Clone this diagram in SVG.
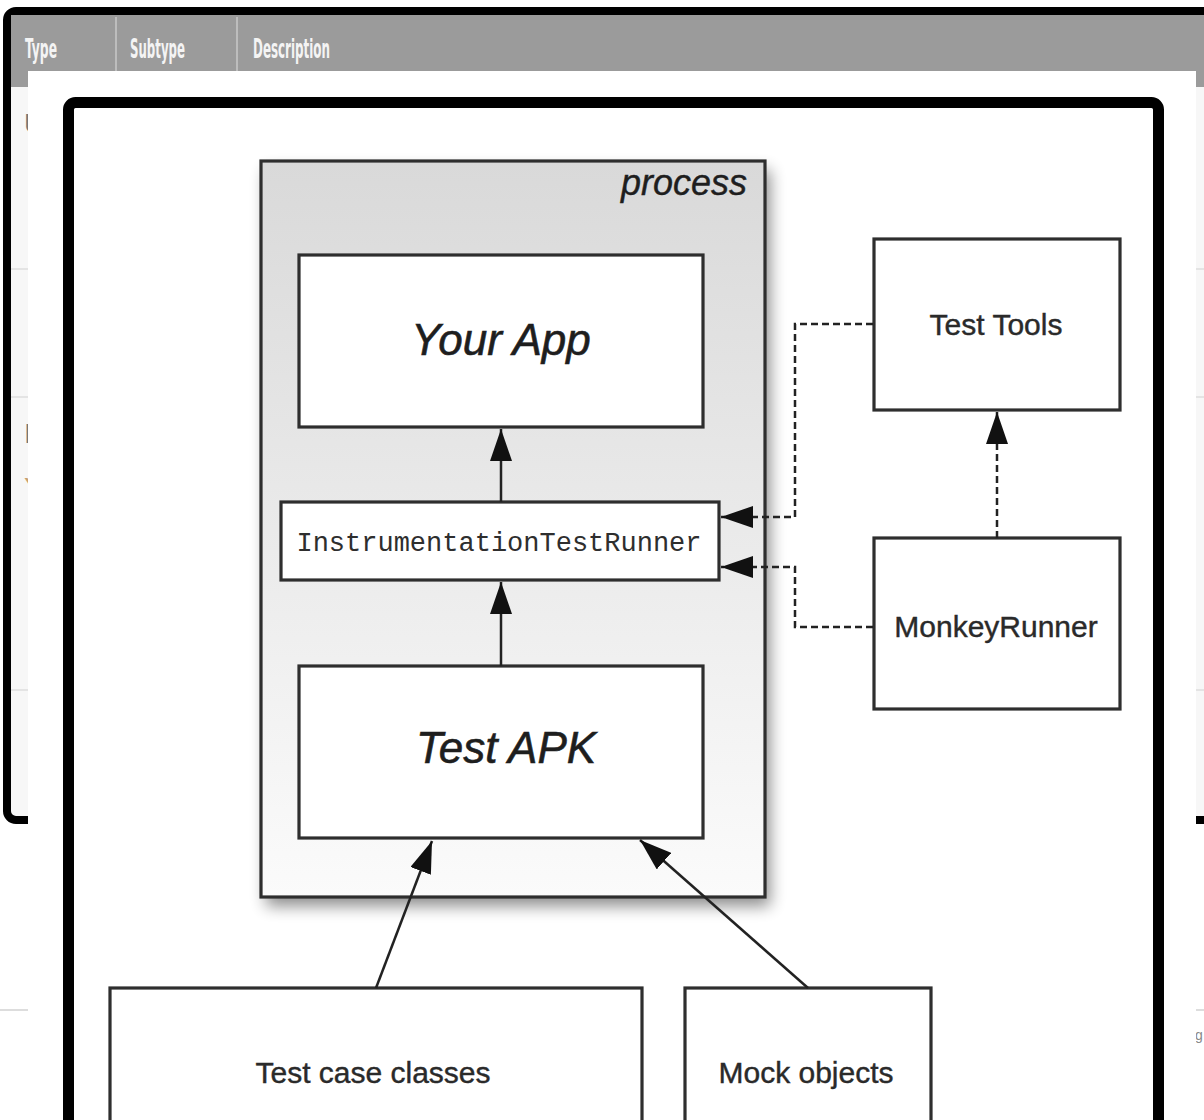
<svg xmlns="http://www.w3.org/2000/svg" width="1204" height="1120" viewBox="0 0 1204 1120">
  <style>
    .hdr { font-family: "Liberation Sans Narrow", "DejaVu Sans Condensed", "Liberation Sans", sans-serif; font-weight: bold; font-size: 27px; fill: #f4f4f4; }
    .box { fill: #ffffff; stroke: #2e2e2e; stroke-width: 3.2; }
    .lbl { font-family: "Liberation Sans", Arial, sans-serif; font-size: 30px; fill: #2a2a2a; stroke: #2a2a2a; stroke-width: 0.4; text-anchor: middle; }
    .big { font-family: "Liberation Sans", Arial, sans-serif; font-size: 44px; font-style: italic; fill: #1e1e1e; stroke: #1e1e1e; stroke-width: 0.6; text-anchor: middle; }
    .mono { font-family: "Liberation Mono", "Courier New", monospace; font-size: 27px; fill: #2e2e2e; text-anchor: middle; }
    .solid { fill: none; stroke: #222222; stroke-width: 2.5; }
    .dash { fill: none; stroke: #222222; stroke-width: 2.5; stroke-dasharray: 7 4; }
    .row { stroke: #e4e4e4; stroke-width: 2; }
  </style>
  <defs>
    <marker id="head" viewBox="0 0 32 22" refX="32" refY="11" markerWidth="32" markerHeight="22" markerUnits="userSpaceOnUse" orient="auto">
      <path d="M0,0 L32,11 L0,22 Z" fill="#111111"/>
    </marker>
    <linearGradient id="procFill" x1="0" y1="0" x2="0" y2="1">
      <stop offset="0" stop-color="#d9d9d9"/>
      <stop offset="1" stop-color="#fbfbfb"/>
    </linearGradient>
    <filter id="soft" x="-20%" y="-20%" width="140%" height="140%">
      <feGaussianBlur stdDeviation="8"/>
    </filter>
  </defs>

  <!-- page behind: table with header -->
  <rect x="0" y="0" width="1204" height="1120" fill="#ffffff"/>
  <rect x="7" y="11" width="1215" height="809" rx="9" fill="#f7f7f7" stroke="#000000" stroke-width="8"/>
  <rect x="11" y="15" width="1200" height="72" fill="#9b9b9b"/>
  <line x1="116" y1="17" x2="116" y2="71" stroke="#bdbdbd" stroke-width="2"/>
  <line x1="237" y1="17" x2="237" y2="71" stroke="#bdbdbd" stroke-width="2"/>
  <text class="hdr" x="25" y="58" textLength="32" lengthAdjust="spacingAndGlyphs">Type</text>
  <text class="hdr" x="130" y="58" textLength="55" lengthAdjust="spacingAndGlyphs">Subtype</text>
  <text class="hdr" x="253" y="58" textLength="77" lengthAdjust="spacingAndGlyphs">Description</text>
  <line class="row" x1="11" y1="269" x2="1204" y2="269"/>
  <line class="row" x1="11" y1="397" x2="1204" y2="397"/>
  <line class="row" x1="11" y1="690" x2="1204" y2="690"/>
  <text x="24" y="133" font-family="Liberation Sans, sans-serif" font-size="28" fill="#777777">U</text>
  <text x="24" y="443" font-family="Liberation Sans, sans-serif" font-size="28" fill="#777777">I</text>
  <text x="24" y="497" font-family="Liberation Sans, sans-serif" font-size="28" fill="#c8a070">Y</text>
  <line x1="0" y1="1010" x2="1204" y2="1010" stroke="#dddddd" stroke-width="2"/>
  <text x="1195" y="1040" font-family="Liberation Sans, sans-serif" font-size="14" fill="#888888">g</text>

  <!-- figure panel on top -->
  <rect x="28" y="71" width="1168" height="1060" fill="#ffffff"/>
  <rect x="68.5" y="102.5" width="1090" height="1100" rx="7" fill="#ffffff" stroke="#000000" stroke-width="11"/>

  <!-- process container -->
  <g id="process">
    <rect x="266" y="170" width="504" height="736" fill="#000000" opacity="0.45" filter="url(#soft)"/>
    <rect x="261" y="161" width="504" height="736" fill="url(#procFill)" stroke="#2e2e2e" stroke-width="3.2"/>
    <text x="747" y="195" font-family="Liberation Sans, Arial, sans-serif" font-size="36" font-style="italic" fill="#1e1e1e" stroke="#1e1e1e" stroke-width="0.4" text-anchor="end">process</text>
  </g>

  <g id="your-app">
    <rect class="box" x="299" y="255" width="404" height="172"/>
    <text class="big" x="501" y="355">Your App</text>
  </g>

  <g id="instrumentation-test-runner">
    <rect class="box" x="281" y="502" width="438" height="78"/>
    <text class="mono" x="499" y="551">InstrumentationTestRunner</text>
  </g>

  <g id="test-apk">
    <rect class="box" x="299" y="666" width="404" height="172"/>
    <text class="big" x="506" y="763">Test APK</text>
  </g>

  <g id="test-tools">
    <rect class="box" x="874" y="239" width="246" height="171"/>
    <text class="lbl" x="996" y="335">Test Tools</text>
  </g>

  <g id="monkey-runner">
    <rect class="box" x="874" y="538" width="246" height="171"/>
    <text class="lbl" x="996" y="637">MonkeyRunner</text>
  </g>

  <g id="test-case-classes">
    <rect class="box" x="110" y="988" width="532" height="160"/>
    <text class="lbl" x="373" y="1083">Test case classes</text>
  </g>

  <g id="mock-objects">
    <rect class="box" x="685" y="988" width="246" height="160"/>
    <text class="lbl" x="806" y="1083">Mock objects</text>
  </g>

  <g id="connectors">
    <line class="solid" x1="501" y1="502" x2="501" y2="429" marker-end="url(#head)"/>
    <line class="solid" x1="501" y1="666" x2="501" y2="582" marker-end="url(#head)"/>
    <line class="dash" x1="997" y1="538" x2="997" y2="412" marker-end="url(#head)"/>
    <polyline class="dash" points="873,324 795,324 795,517 721,517" marker-end="url(#head)"/>
    <polyline class="dash" points="873,627 795,627 795,567 721,567" marker-end="url(#head)"/>
    <line class="solid" x1="376" y1="988" x2="432" y2="841" marker-end="url(#head)"/>
    <line class="solid" x1="808" y1="988" x2="640" y2="840" marker-end="url(#head)"/>
  </g>
</svg>
